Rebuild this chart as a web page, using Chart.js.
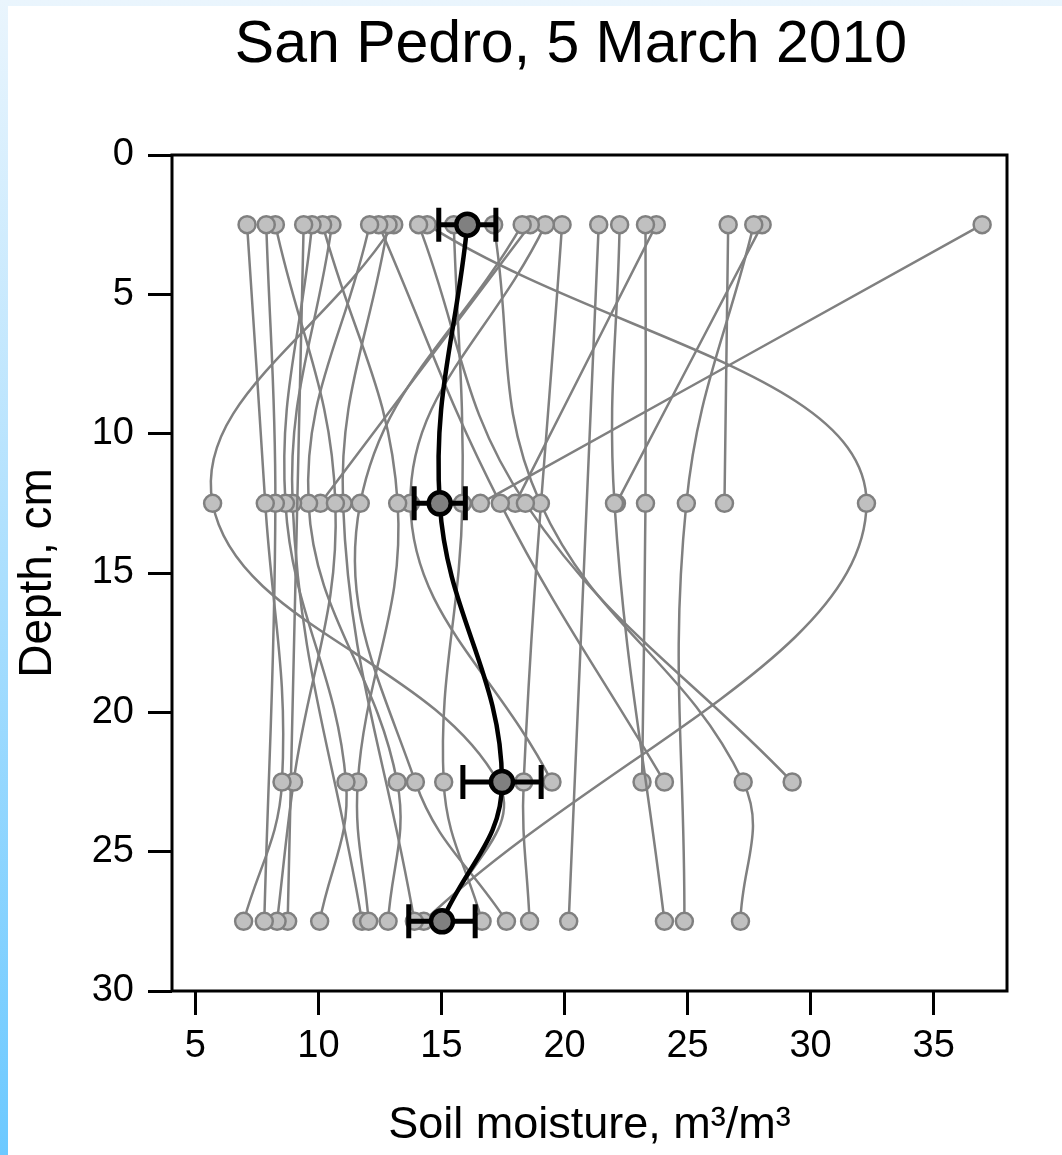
<!DOCTYPE html>
<html>
<head>
<meta charset="utf-8">
<script src="https://cdn.jsdelivr.net/npm/chart.js@4.4.1/dist/chart.umd.min.js"></script>
<style>
  html, body { margin: 0; padding: 0; }
  body {
    width: 1062px; height: 1155px; overflow: hidden; position: relative;
    background: linear-gradient(to bottom, #eaf5fd, #6cc9ff);
  }
  .panel { position: absolute; left: 8px; top: 6px; right: 0; bottom: 0; background: #fff; }
  .chart-box { position: absolute; left: 0; top: 0; width: 1062px; height: 1155px; }
</style>
</head>
<body>
<div class="panel"></div>
<div class="chart-box"><canvas id="profileChart"></canvas></div>
<script>
// Sampling depths, cm
const depths = [2.5, 12.5, 22.5, 27.5];

// Soil moisture of each profile at each depth (same index = same profile, null = no reading)
const moistureAt2_5 = [7.10, 7.88, 8.25, 9.40, 9.74, 10.17, 10.55, 12.08, 12.45, 12.83, 13.06, 14.07, 14.42, 15.5,
  17.12, 18.28, 18.61, 19.22, 19.90, 21.39, 22.24, 23.29, 23.73, 26.65, 27.69, 28.03, 36.97];
const moistureAt12_5 = [7.84, 8.25, 10.69, null, 8.66, 13.22, 8.95, 9.60, 17.39, 11.00, 5.70, 18.41, 32.27, 15.85,
  19.02, 11.70, 10.08, 13.74, null, null, 22.03, 23.29, 18.00, 26.50, 24.95, 22.11, 16.58];
const moistureAt22_5 = [8.52, null, 8.99, null, 11.12, 11.60, null, 13.20, 24.06, null, 17.3, 29.25, null, 15.09,
  27.26, 13.94, null, 19.49, 18.34, null, null, 23.15, null, null, null, null, null];
const moistureAt27_5 = [6.96, 7.80, 8.32, 8.75, 10.05, 12.04, 11.77, 12.83, null, 13.90, 15.0, null, 14.28, 16.65,
  27.15, 17.64, null, null, 18.58, 20.17, 24.06, null, null, null, 24.87, null, null];

// Mean profile and its error (half width of the bar)
const meanMoisture = [16.05, 14.93, 17.46, 15.02];
const meanError = [1.16, 1.04, 1.59, 1.35];

const xTicks = [5, 10, 15, 20, 25, 30, 35];
const yTicks = [0, 5, 10, 15, 20, 25, 30];

const FONT = '"Liberation Sans", Arial, Helvetica, sans-serif';

const columns = [moistureAt2_5, moistureAt12_5, moistureAt22_5, moistureAt27_5];

const profileSets = moistureAt2_5.map((_, i) => ({
  data: depths
    .map((d, j) => ({ x: columns[j][i], y: d }))
    .filter(p => p.x !== null),
  showLine: true,
  tension: 0.4,
  borderColor: '#808080',
  borderWidth: 2.5,
  pointRadius: 8.5,
  pointBorderWidth: 2.5,
  pointBorderColor: '#808080',
  pointBackgroundColor: '#c0c0c0'
}));

const meanSet = {
  data: depths.map((d, i) => ({ x: meanMoisture[i], y: d })),
  showLine: true,
  tension: 0.4,
  borderColor: '#000',
  borderWidth: 4.5,
  pointRadius: 11,
  pointBorderWidth: 4.5,
  pointBorderColor: '#000',
  pointBackgroundColor: '#808080'
};

// box round the plot area
const frame = {
  id: 'frame',
  beforeDatasetsDraw(chart) {
    const { ctx, chartArea: a } = chart;
    ctx.save();
    ctx.strokeStyle = '#000';
    ctx.lineWidth = 3;
    ctx.strokeRect(a.left, a.top, a.right - a.left, a.bottom - a.top);
    ctx.restore();
  }
};

// horizontal error bars, drawn just under the mean profile
const errorBars = {
  id: 'errorBars',
  beforeDatasetDraw(chart, args) {
    if (args.index !== 0) return;
    const { ctx, scales: { x, y } } = chart;
    ctx.save();
    ctx.strokeStyle = '#000';
    ctx.lineWidth = 5;
    meanMoisture.forEach((m, i) => {
      const py = y.getPixelForValue(depths[i]);
      const x0 = x.getPixelForValue(m - meanError[i]);
      const x1 = x.getPixelForValue(m + meanError[i]);
      ctx.beginPath();
      ctx.moveTo(x0, py); ctx.lineTo(x1, py);
      ctx.moveTo(x0, py - 17); ctx.lineTo(x0, py + 17);
      ctx.moveTo(x1, py - 17); ctx.lineTo(x1, py + 17);
      ctx.stroke();
    });
    ctx.restore();
  }
};

const titleText = {
  id: 'titleText',
  afterDraw(chart) {
    const { ctx } = chart;
    ctx.save();
    ctx.fillStyle = '#000';
    ctx.font = '59px ' + FONT;
    ctx.textAlign = 'center';
    ctx.textBaseline = 'alphabetic';
    ctx.fillText('San Pedro, 5 March 2010', 571, 62);
    ctx.restore();
  }
};

new Chart(document.getElementById('profileChart'), {
  type: 'scatter',
  data: { datasets: [meanSet, ...profileSets] },
  options: {
    responsive: true,
    maintainAspectRatio: false,
    animation: false,
    layout: { padding: { top: 155, right: 55, left: 0, bottom: 0 } },
    plugins: { legend: { display: false }, tooltip: { enabled: false } },
    scales: {
      x: {
        type: 'linear',
        min: 4.05,
        max: 37.98,
        afterBuildTicks: axis => { axis.ticks = xTicks.map(v => ({ value: v })); },
        afterFit: axis => { axis.height = 164; },
        border: { display: false },
        grid: { drawOnChartArea: false, drawTicks: true, tickLength: 24, tickWidth: 3, tickColor: '#000' },
        ticks: { color: '#000', font: { family: FONT, size: 38 }, padding: 9, maxRotation: 0 },
        title: {
          display: true,
          text: 'Soil moisture, m³/m³',
          color: '#000',
          font: { family: FONT, size: 45 },
          padding: { top: 0, bottom: 2 }
        }
      },
      y: {
        type: 'linear',
        reverse: true,
        min: 0,
        max: 30,
        afterBuildTicks: axis => { axis.ticks = yTicks.map(v => ({ value: v })); },
        afterFit: axis => { axis.width = 172; },
        border: { display: false },
        grid: { drawOnChartArea: false, drawTicks: true, tickLength: 24, tickWidth: 3, tickColor: '#000' },
        ticks: { color: '#000', font: { family: FONT, size: 38 }, padding: 14 },
        title: {
          display: true,
          text: 'Depth, cm',
          color: '#000',
          font: { family: FONT, size: 46 },
          padding: { top: 11, bottom: 0 }
        }
      }
    }
  },
  plugins: [frame, errorBars, titleText]
});
</script>
</body>
</html>
